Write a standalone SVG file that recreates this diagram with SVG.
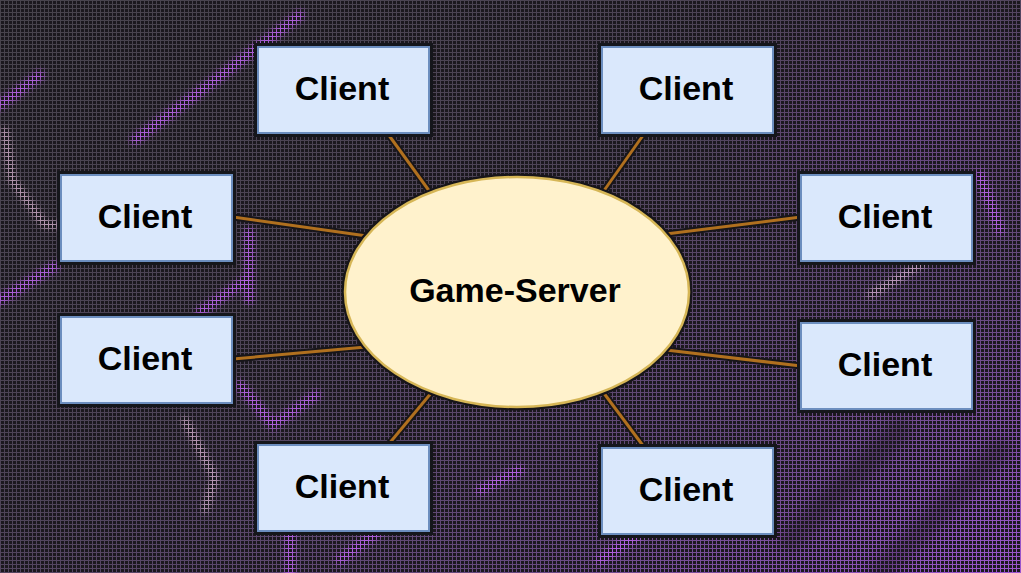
<svg xmlns="http://www.w3.org/2000/svg" width="1021" height="573" viewBox="0 0 1021 573">
<style>
.box-o{fill:none;stroke:#15161b;stroke-width:8}
.box{fill:#dae8fc;stroke:#6c8ebf;stroke-width:2}
.lbl{font-family:"Liberation Sans",Arial,sans-serif;font-weight:bold;font-size:34px;fill:#000;text-anchor:middle}
.con-o{stroke:#17151a;stroke-width:7;stroke-linecap:round}
.con{stroke:#b0701f;stroke-width:3}
.tr{fill:none;stroke-linecap:round;stroke-linejoin:round}
</style>
<defs>
<pattern id="grid" width="4" height="4" patternUnits="userSpaceOnUse">
<path d="M0 0.5H4M0.5 0V4" stroke="#fff" stroke-width="1"/>
</pattern>
<mask id="gm"><rect width="1021" height="573" fill="url(#grid)"/></mask>
<linearGradient id="tint" x1="0" y1="0" x2="1" y2="1">
<stop offset="0" stop-color="#47434c"/>
<stop offset="0.45" stop-color="#4e4458"/>
<stop offset="0.75" stop-color="#674a80"/>
<stop offset="1" stop-color="#9c56cf"/>
</linearGradient>
<radialGradient id="glowTR" cx="0.5" cy="0.5" r="0.5">
<stop offset="0" stop-color="#7a4a9c" stop-opacity="0.6"/>
<stop offset="1" stop-color="#7a4a9c" stop-opacity="0"/>
</radialGradient>
<filter id="blur" x="-20%" y="-20%" width="140%" height="140%"><feGaussianBlur stdDeviation="3"/></filter>
<filter id="blur2" x="-20%" y="-20%" width="140%" height="140%"><feGaussianBlur stdDeviation="6"/></filter>
</defs>
<g id="background">
<rect width="1021" height="573" fill="#1b181e"/>
<g mask="url(#gm)">
<rect width="1021" height="573" fill="url(#tint)"/>
<ellipse cx="900" cy="120" rx="200" ry="140" fill="url(#glowTR)"/>
<g class="tr" stroke="#b860ea" stroke-width="10" filter="url(#blur)">
<path d="M0 105L40 75"/>
<path d="M135 140L215 80L300 15"/>
<path d="M0 300L55 266"/>
<path d="M200 312L246 280"/>
<path d="M249 232V300"/>
<path d="M240 385L273 425L316 395"/>
<path d="M290 530V573"/>
<path d="M340 560L380 530"/>
<path d="M980 175L1000 230"/>
<path d="M600 560L660 520"/>
<path d="M480 490L520 470"/>
</g>
<g class="tr" stroke="#e8c0de" stroke-width="6" filter="url(#blur)">
<path d="M5 130L12 180L45 225H58"/>
<path d="M185 420L215 478L205 510"/>
<path d="M870 295L925 262"/>
</g>
<g class="tr" stroke="#1b181e" stroke-width="22" opacity="0.35" filter="url(#blur2)">
<path d="M790 540L900 430"/>
<path d="M880 573L1000 450"/>
</g>
</g>
</g>
<g id="connectors">
<g class="con-o">
<line x1="388" y1="134" x2="430" y2="192"/>
<line x1="644" y1="134" x2="603" y2="192"/>
<line x1="233" y1="217" x2="367" y2="236"/>
<line x1="801" y1="217" x2="666" y2="234"/>
<line x1="233" y1="359" x2="366" y2="347"/>
<line x1="801" y1="366" x2="666" y2="350"/>
<line x1="388" y1="445" x2="432" y2="392"/>
<line x1="644" y1="447" x2="603" y2="392"/>
</g>
<g class="con">
<line x1="388" y1="134" x2="430" y2="192"/>
<line x1="644" y1="134" x2="603" y2="192"/>
<line x1="233" y1="217" x2="367" y2="236"/>
<line x1="801" y1="217" x2="666" y2="234"/>
<line x1="233" y1="359" x2="366" y2="347"/>
<line x1="801" y1="366" x2="666" y2="350"/>
<line x1="388" y1="445" x2="432" y2="392"/>
<line x1="644" y1="447" x2="603" y2="392"/>
</g>
</g>
<g id="server">
<ellipse cx="517" cy="292" rx="172" ry="115" fill="none" stroke="#17151a" stroke-width="7"/>
<ellipse cx="517" cy="292" rx="172" ry="115" fill="#fff2cc" stroke="#d6b656" stroke-width="2.5"/>
<text class="lbl" x="515" y="302">Game-Server</text>
</g>
<g id="client-tl"><rect class="box-o" x="258" y="47" width="171" height="86"/><rect class="box" x="258" y="47" width="171" height="86"/><text class="lbl" x="342" y="100">Client</text></g>
<g id="client-tr"><rect class="box-o" x="602" y="47" width="171" height="86"/><rect class="box" x="602" y="47" width="171" height="86"/><text class="lbl" x="686" y="100">Client</text></g>
<g id="client-lt"><rect class="box-o" x="61" y="175" width="171" height="86"/><rect class="box" x="61" y="175" width="171" height="86"/><text class="lbl" x="145" y="228">Client</text></g>
<g id="client-rt"><rect class="box-o" x="801" y="175" width="171" height="86"/><rect class="box" x="801" y="175" width="171" height="86"/><text class="lbl" x="885" y="228">Client</text></g>
<g id="client-lb"><rect class="box-o" x="61" y="317" width="171" height="86"/><rect class="box" x="61" y="317" width="171" height="86"/><text class="lbl" x="145" y="370">Client</text></g>
<g id="client-rb"><rect class="box-o" x="801" y="323" width="171" height="86"/><rect class="box" x="801" y="323" width="171" height="86"/><text class="lbl" x="885" y="376">Client</text></g>
<g id="client-bl"><rect class="box-o" x="258" y="445" width="171" height="86"/><rect class="box" x="258" y="445" width="171" height="86"/><text class="lbl" x="342" y="498">Client</text></g>
<g id="client-br"><rect class="box-o" x="602" y="448" width="171" height="86"/><rect class="box" x="602" y="448" width="171" height="86"/><text class="lbl" x="686" y="501">Client</text></g>
</svg>
